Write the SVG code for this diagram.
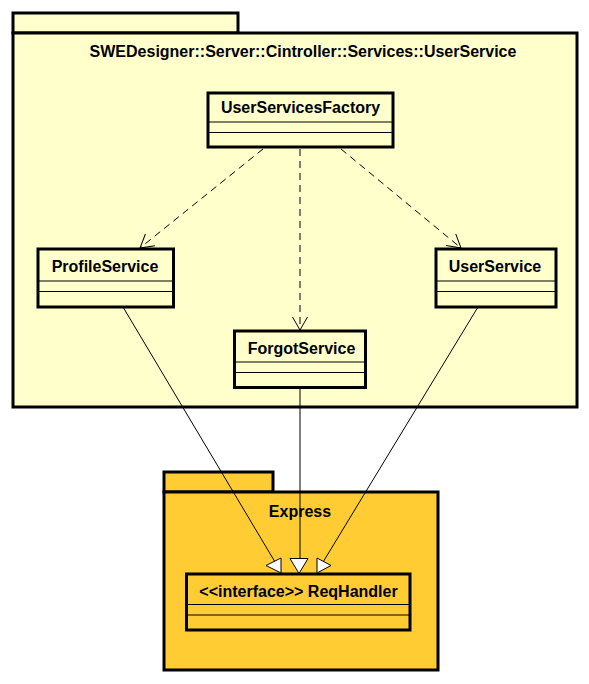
<svg xmlns="http://www.w3.org/2000/svg" width="589" height="684" viewBox="0 0 589 684">
  <defs>
    <style>
      .pkg1 { fill: #FFFFCC; stroke: #000; stroke-width: 3; }
      .pkg2 { fill: #FFCC33; stroke: #000; stroke-width: 3; }
      .cls1 { fill: #FFFFCC; stroke: #000; stroke-width: 3; }
      .cls2 { fill: #FFCC33; stroke: #000; stroke-width: 3; }
      .sep { stroke: #000; stroke-width: 1.2; }
      .lbl { font-family: "Liberation Sans", Arial, sans-serif; font-size: 16px; font-weight: bold; fill: #000; text-anchor: middle; }
      .dep { fill: none; stroke: #000; stroke-width: 1; stroke-dasharray: 7 5; }
      .real { fill: none; stroke: #000; stroke-width: 1; }
      .tri { fill: #FFFFFF; stroke: #000; stroke-width: 1; }
    </style>
    <marker id="open" markerUnits="userSpaceOnUse" markerWidth="20" markerHeight="20" viewBox="-15 -10 20 20" refX="0" refY="0" orient="auto">
      <path d="M -13 -7.5 L 0 0 L -13 7.5" fill="none" stroke="#000" stroke-width="1"/>
    </marker>
  </defs>

  <g id="pkg-userservice">
    <rect class="pkg1" x="13" y="13" width="225" height="20"/>
    <rect class="pkg1" x="13" y="33" width="564" height="374"/>
    <text class="lbl" x="303" y="57">SWEDesigner::Server::Cintroller::Services::UserService</text>
  </g>

  <g id="pkg-express">
    <rect class="pkg2" x="164" y="472" width="109" height="20"/>
    <rect class="pkg2" x="164" y="492" width="274" height="178"/>
    <text class="lbl" x="300" y="517">Express</text>
  </g>

  <g id="UserServicesFactory">
    <rect class="cls1" x="208" y="93" width="185" height="54"/>
    <line class="sep" x1="208" y1="122" x2="393" y2="122"/>
    <line class="sep" x1="208" y1="132.5" x2="393" y2="132.5"/>
    <text class="lbl" x="300.5" y="113">UserServicesFactory</text>
  </g>

  <g id="ProfileService">
    <rect class="cls1" x="38" y="249" width="135.5" height="58"/>
    <line class="sep" x1="38" y1="281" x2="173.5" y2="281"/>
    <line class="sep" x1="38" y1="291.5" x2="173.5" y2="291.5"/>
    <text class="lbl" x="105" y="272">ProfileService</text>
  </g>

  <g id="UserService">
    <rect class="cls1" x="436" y="249" width="120" height="58"/>
    <line class="sep" x1="436" y1="281" x2="556" y2="281"/>
    <line class="sep" x1="436" y1="291.5" x2="556" y2="291.5"/>
    <text class="lbl" x="495" y="272">UserService</text>
  </g>

  <g id="ForgotService">
    <rect class="cls1" x="234.5" y="331" width="131" height="56.5"/>
    <line class="sep" x1="234.5" y1="362" x2="365.5" y2="362"/>
    <line class="sep" x1="234.5" y1="372.5" x2="365.5" y2="372.5"/>
    <text class="lbl" x="301.5" y="353.5">ForgotService</text>
  </g>

  <g id="ReqHandler">
    <rect class="cls2" x="186.5" y="574" width="223.5" height="56"/>
    <line class="sep" x1="186.5" y1="604.5" x2="410" y2="604.5"/>
    <line class="sep" x1="186.5" y1="615" x2="410" y2="615"/>
    <text class="lbl" x="298.5" y="597">&lt;&lt;interface&gt;&gt; ReqHandler</text>
  </g>

  <g id="connectors">
    <line class="dep" x1="263" y1="149" x2="140" y2="248" marker-end="url(#open)"/>
    <line class="dep" x1="300" y1="149" x2="300" y2="330" marker-end="url(#open)"/>
    <line class="dep" x1="341" y1="149" x2="461" y2="248" marker-end="url(#open)"/>

    <line class="real" x1="123" y1="307" x2="281" y2="572"/>
    <polygon class="tri" points="281,558 281,573 266,565.5"/>

    <line class="real" x1="300" y1="388" x2="300" y2="558"/>
    <polygon class="tri" points="290,558.5 308,558.5 299,573.5"/>

    <line class="real" x1="478" y1="307" x2="317" y2="572"/>
    <polygon class="tri" points="317,558 317,573 331,565.5"/>
  </g>
</svg>
